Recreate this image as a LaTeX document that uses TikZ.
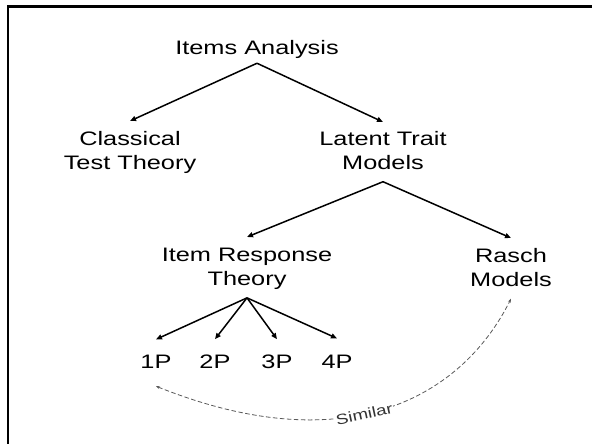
\documentclass[tikz,border=0pt]{standalone}
\usepackage{fontspec}
\newfontfamily\lbl[FakeStretch=1.3]{Liberation Sans}
\usetikzlibrary{arrows.meta}
\tikzset{
  lab/.style={inner sep=0pt, align=center, font=\lbl\fontsize{19.5}{24}\selectfont, text=black},
  arr/.style={line width=1.5pt, -{Triangle[length=6pt,width=5pt]}},
  simarrow/.style={draw=black!65, line width=0.8pt, dash pattern=on 4.5pt off 2.5pt,
     {Stealth[length=4pt,width=3pt]}-{Stealth[length=4pt,width=3pt]}},
  simlab/.style={font=\lbl\fontsize{14.5}{17}\selectfont, text=black!80, fill=white, inner sep=0.8pt, sloped},
  frame/.style={line width=2.7pt}
}
\begin{document}
\begin{tikzpicture}[x=1pt,y=-1pt]
\useasboundingbox (0,0) rectangle (592,444);
\draw[frame] (8,444) -- (8,6.7) -- (592,6.7);
\node[lab, anchor=base] (ia) at (257,55) {Items Analysis};
\node[lab, anchor=north] (ctt) at (130,131) {Classical\\Test Theory};
\node[lab, anchor=north] (ltm) at (383,131) {Latent Trait\\Models};
\node[lab, anchor=north] (irt) at (247,248) {Item Response\\Theory};
\node[lab, anchor=north] (rm) at (511,248) {Rasch\\Models};
\node[lab, anchor=base] (p1) at (156,368) {1P};
\node[lab, anchor=base] (p2) at (215,368) {2P};
\node[lab, anchor=base] (p3) at (277,368) {3P};
\node[lab, anchor=base] (p4) at (337,368) {4P};
\draw[arr] ([yshift=-4pt]ia.south) -- ([yshift=10pt]ctt.north);
\draw[arr] ([yshift=-4pt]ia.south) -- ([yshift=9pt]ltm.north);
\draw[arr] ([yshift=-12pt]ltm.south) -- ([yshift=11pt]irt.north);
\draw[arr] ([yshift=-12pt]ltm.south) -- ([yshift=10pt]rm.north);
\draw[arr] ([yshift=-8pt]irt.south) -- ([yshift=15pt]p1.north);
\draw[arr] ([yshift=-8pt]irt.south) -- ([yshift=15pt]p2.north);
\draw[arr] ([yshift=-8pt]irt.south) -- ([yshift=15pt]p3.north);
\draw[arr] ([yshift=-8pt]irt.south) -- ([yshift=16pt]p4.north);
\draw[simarrow] ([yshift=-18pt]p1.south) .. controls +(190,76) and +(-49.5,99) .. ([yshift=-12pt]rm.south)
  node[simlab, pos=0.44] (sim) {Similar};
\end{tikzpicture}
\end{document}
